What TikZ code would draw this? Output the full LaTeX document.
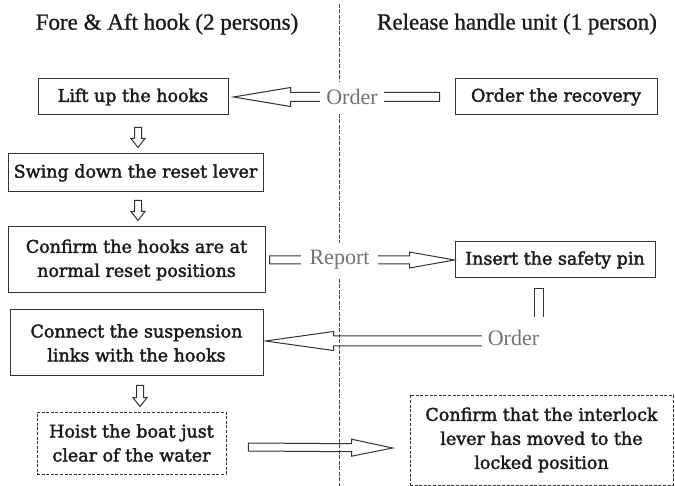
\documentclass[tikz,border=0pt]{standalone}
\usepackage{fontspec}
\setmainfont{DejaVu Serif}
\newfontfamily\stepfont{DejaVu Serif}[FakeBold=2]
\newfontfamily\headfont{Liberation Serif}[FakeBold=1]
\newfontfamily\tagfont{Liberation Serif}
\usepackage{tikz}
\usetikzlibrary{calc}
\definecolor{fcInk}{HTML}{1A1A1A}
\definecolor{fcLine}{HTML}{333333}
\definecolor{fcLabel}{HTML}{737373}
\definecolor{fcDivider}{HTML}{4A4A4A}
\tikzset{
  shaft/.store in=\fcShaft, shaft=3.5pt,
  tipw/.store in=\fcTipW, tipw=8pt,
  tipl/.store in=\fcTipL, tipl=12pt,
}

\begin{document}
\begin{tikzpicture}[
    x=1pt, y=-1pt,
    task/.style={draw=fcLine, line width=1pt, align=center, text=fcInk,
      font=\stepfont\fontsize{17.5}{24}\selectfont, inner sep=0pt},
    check/.style={task, line width=0.8pt, dash pattern=on 3pt off 1.6pt},
    head/.style={font=\headfont\fontsize{23}{26}\selectfont, text=fcInk},
    tag/.style={font=\tagfont\fontsize{22}{24}\selectfont, text=fcLabel, fill=white, inner xsep=6pt, inner ysep=7pt},
    divider/.style={draw=fcDivider, line width=0.7pt, dash pattern=on 4pt off 1.5pt},
    pipe/.style={draw=fcLine, line width=1pt},
    hollow/.style={pipe, line join=miter, to path={
      let \p1=(\tikztostart), \p2=(\tikztotarget),
          \n1={atan2(\y2-\y1,\x2-\x1)}, \n2={veclen(\x2-\x1,\y2-\y1)} in
      ($(\p1)+(\n1+90:\fcShaft)$)
      -- ($(\p1)+(\n1:\n2-\fcTipL)+(\n1+90:\fcShaft)$)
      -- ($(\p1)+(\n1:\n2-\fcTipL)+(\n1+90:\fcTipW)$)
      -- (\p2)
      -- ($(\p1)+(\n1:\n2-\fcTipL)+(\n1-90:\fcTipW)$)
      -- ($(\p1)+(\n1:\n2-\fcTipL)+(\n1-90:\fcShaft)$)
      -- ($(\p1)+(\n1-90:\fcShaft)$) -- cycle}},
  ]
  \useasboundingbox (0,0) rectangle (675,486);

  % dividing line between the two crews
  \coordinate (divtop) at (339,4);
  \coordinate (divbot) at (339,486);
  \draw[divider] (divtop) -- (divbot);

  \node[head] (hookside) at (167,24) {Fore \& Aft hook (2 persons)};
  \node[head] (handleside) at (517,24) {Release handle unit (1 person)};

  % steps
  \node[task, minimum width=190pt, minimum height=36pt] (lift) at (133,97) {Lift up the hooks};
  \node[task, minimum width=202pt, minimum height=36pt] (recov) at (556,97) {Order the recovery};
  \node[task, minimum width=255pt, minimum height=38pt] (swing) at (135.5,173) {Swing down the reset lever};
  \node[task, minimum width=257pt, minimum height=66pt] (hooks) at (136.5,260) {Confirm the hooks are at\\normal reset positions};
  \node[task, minimum width=200pt, minimum height=36pt] (insert) at (555,260) {Insert the safety pin};
  \node[task, minimum width=253pt, minimum height=66pt] (connect) at (136.5,343) {Connect the suspension\\links with the hooks};
  \node[check, minimum width=189pt, minimum height=62pt] (hoist) at (131.5,443) {Hoist the boat just\\clear of the water};
  \node[check, minimum width=263pt, minimum height=90pt] (interlock) at (541.5,440) {Confirm that the interlock\\lever has moved to the\\locked position};

  % hand-overs
  \draw[hollow, shaft=4.5pt, tipw=9.5pt, tipl=57pt] ($(recov.west)+(-15,0)$) to ($(lift.east)+(5,0)$);
  \draw[hollow, shaft=3.5pt, tipw=7pt, tipl=9pt] ($(lift.south)+(5,12)$) to ($(swing.north)+(2.5,-6)$);
  \draw[hollow, shaft=3.5pt, tipw=7pt, tipl=9pt] ($(swing.south)+(2.5,8)$) to ($(hooks.north)+(1.5,-6)$);
  \draw[hollow, shaft=4pt, tipw=8pt, tipl=45pt] ($(hooks.east)+(4,0)$) to (insert.west);
  \coordinate (pintop) at (538.5,289);
  \coordinate (pinfoot) at (538.5,317);
  \draw[pipe] ($(pinfoot)+(-4.5,0)$) -- ($(pintop)+(-4.5,0)$) -- ($(pintop)+(4.5,0)$) -- ($(pinfoot)+(4.5,0)$);
  \draw[hollow, shaft=5pt, tipw=9.5pt, tipl=68pt] ($(pinfoot)+(-40,24)$) to ($(connect.east)+(2,-2)$);
  \draw[hollow, shaft=3.5pt, tipw=7pt, tipl=9pt] ($(connect.south)+(3.5,9)$) to ($(hoist.north)+(8.5,-5)$);
  \draw[hollow, shaft=4pt, tipw=8.5pt, tipl=41pt] ($(hoist.east)+(22,4)$) to ($(interlock.west)+(-17,8)$);

  \node[tag] (ordtop) at (352,97) {Order};
  \node[tag, inner xsep=9pt] (report) at (339.5,260) {Report};
  \node[tag] (ordlow) at (513.5,338) {Order};
\end{tikzpicture}
\end{document}
